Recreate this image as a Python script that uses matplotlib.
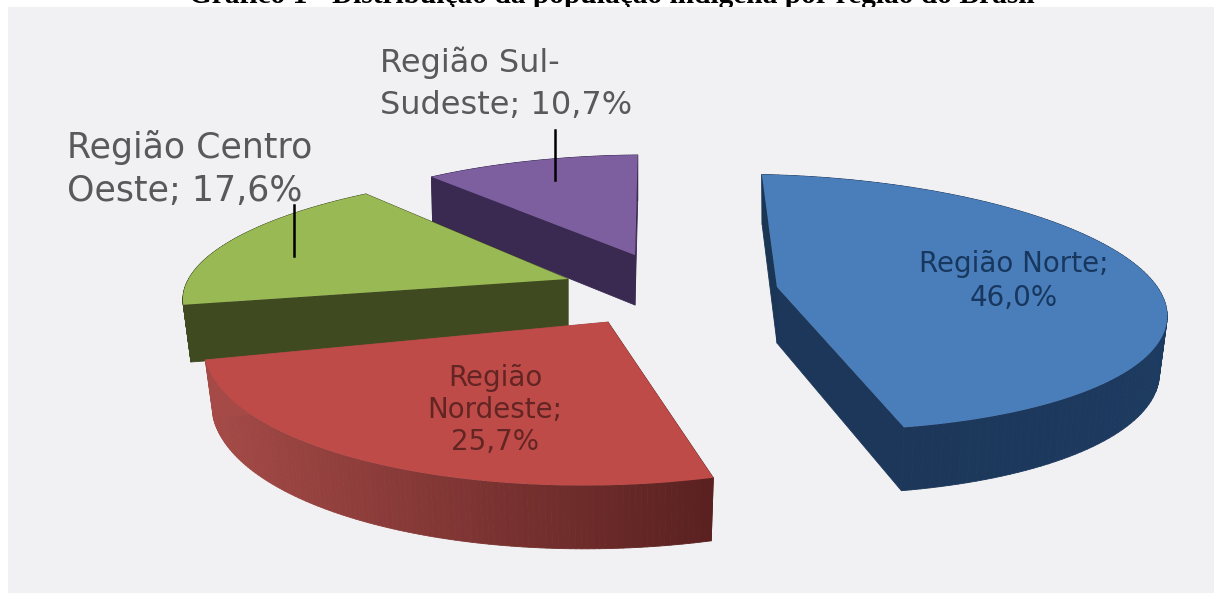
"""Gráfico 1 - exploded 3D-look pie of the indigenous population by region."""
import matplotlib

matplotlib.use("Agg")
import matplotlib.pyplot as plt
import numpy as np
from matplotlib.collections import PolyCollection
from matplotlib.colors import to_rgb
from matplotlib.patches import Polygon, Rectangle

W, H = 1214, 593

TITLE = "Gráfico 1 - Distribuição da população indígena por região do Brasil"
REGIONS = ["Região Norte", "Região Nordeste", "Região Centro Oeste", "Região Sul-Sudeste"]
SHARES = [46.0, 25.7, 17.6, 10.7]
LABELS = ["Região Norte;\n46,0%", "Região\nNordeste;\n25,7%",
          "Região Centro\nOeste; 17,6%", "Região Sul-\nSudeste; 10,7%"]

# apex x/y, then a, b, shear, tilt, perspective k, wall depth, wall shrink
GEOMETRY = [
    (777, 287, 385, 126, -17, -8, 0.12, 56, 0.98),
    (608, 322, 402, 147, 5, 7, 0.10, 57, 0.98),
    (568, 279, 380, 118, 24, 1, 0.10, 56, 0.98),
    (635, 255, 356, 110, 3, 3, 0.10, 50, 0.995),
]
TOP_COLORS = ["#4a7ebb", "#be4b48", "#98b954", "#7d5fa0"]
WALL_LEFT = ["#1b3555", "#a54a47", "#3f4a20", "#3a2950"]
WALL_RIGHT = ["#1d3a60", "#5a2120", "#3f4a20", "#3a2950"]
TEXT_COLORS = ["#17375e", "#632523", "#595959", "#595959"]
LABEL_POS = [(1014, 281), (495, 410), (190, 169), (506, 84)]
LABEL_SIZES = [20, 20, 25, 23]
LABEL_SPACING = [1.23, 1.2, 1.33, 1.45]
LABEL_ALIGN = ["center", "center", "left", "left"]
LEADERS = [None, None, ((294, 205), (294, 256)), ((555, 130), (555, 180))]


def slice_outline(geom, t0, t1):
    x0, y0, a, b, s, t, k, _, _ = geom
    theta = np.radians(np.linspace(t0, t1, 120))
    X, Y = np.sin(theta), np.cos(theta)
    d = 1 + k * Y
    xs = (a * X + s * Y) / d
    ys = -(b * Y + t * X) / d
    return np.r_[0, xs], np.r_[0, ys], np.r_[1, d]


def draw_slice(ax, i, t0, t1):
    geom = GEOMETRY[i]
    x0, y0, depth, shrink = geom[0], geom[1], geom[7], geom[8]
    xs, ys, d = slice_outline(geom, t0, t1)
    top = np.c_[x0 + xs, y0 + ys]
    bottom = np.c_[x0 + xs * shrink, y0 + ys + depth / d]

    left, right = np.array(to_rgb(WALL_LEFT[i])), np.array(to_rgb(WALL_RIGHT[i]))
    span = top[:, 0].max() - top[:, 0].min()
    quads, cols = [], []
    for j in range(len(top)):
        n = (j + 1) % len(top)
        quads.append([top[j], top[n], bottom[n], bottom[j]])
        f = (top[j, 0] - top[:, 0].min()) / span
        cols.append(left + (right - left) * f)
    ax.add_collection(PolyCollection(quads, facecolors=cols, edgecolors=cols, linewidths=0.6))
    ax.add_patch(Polygon(top, closed=True, facecolor=TOP_COLORS[i], edgecolor="none"))


fig = plt.figure(figsize=(W / 100, H / 100), dpi=100, facecolor="white")
ax = fig.add_axes([0, 0, 1, 1])
ax.set_xlim(0, W)
ax.set_ylim(H, 0)
ax.axis("off")
ax.add_patch(Rectangle((8, 7), W - 8, H - 7, facecolor="#f1f1f3", edgecolor="none", zorder=1))

# the title sits half off the top edge in the source scan
ax.text(612, 3, TITLE, ha="center", va="baseline", fontsize=21.2, fontweight="bold",
        family="Liberation Serif", color="black", zorder=0.5)

edges = np.r_[0, np.cumsum(SHARES)] / sum(SHARES) * 360
for i in [3, 2, 1, 0]:
    draw_slice(ax, i, edges[i], edges[i + 1])

for seg in LEADERS:
    if seg:
        ax.plot([seg[0][0], seg[1][0]], [seg[0][1], seg[1][1]], color="black", lw=1.8, zorder=4)

for i, label in enumerate(LABELS):
    ax.text(LABEL_POS[i][0], LABEL_POS[i][1], label, ha="center", va="center",
            multialignment=LABEL_ALIGN[i], family="DejaVu Sans", fontsize=LABEL_SIZES[i],
            color=TEXT_COLORS[i], linespacing=LABEL_SPACING[i], zorder=5)

fig.savefig("out.png", dpi=100)
plt.close(fig)
